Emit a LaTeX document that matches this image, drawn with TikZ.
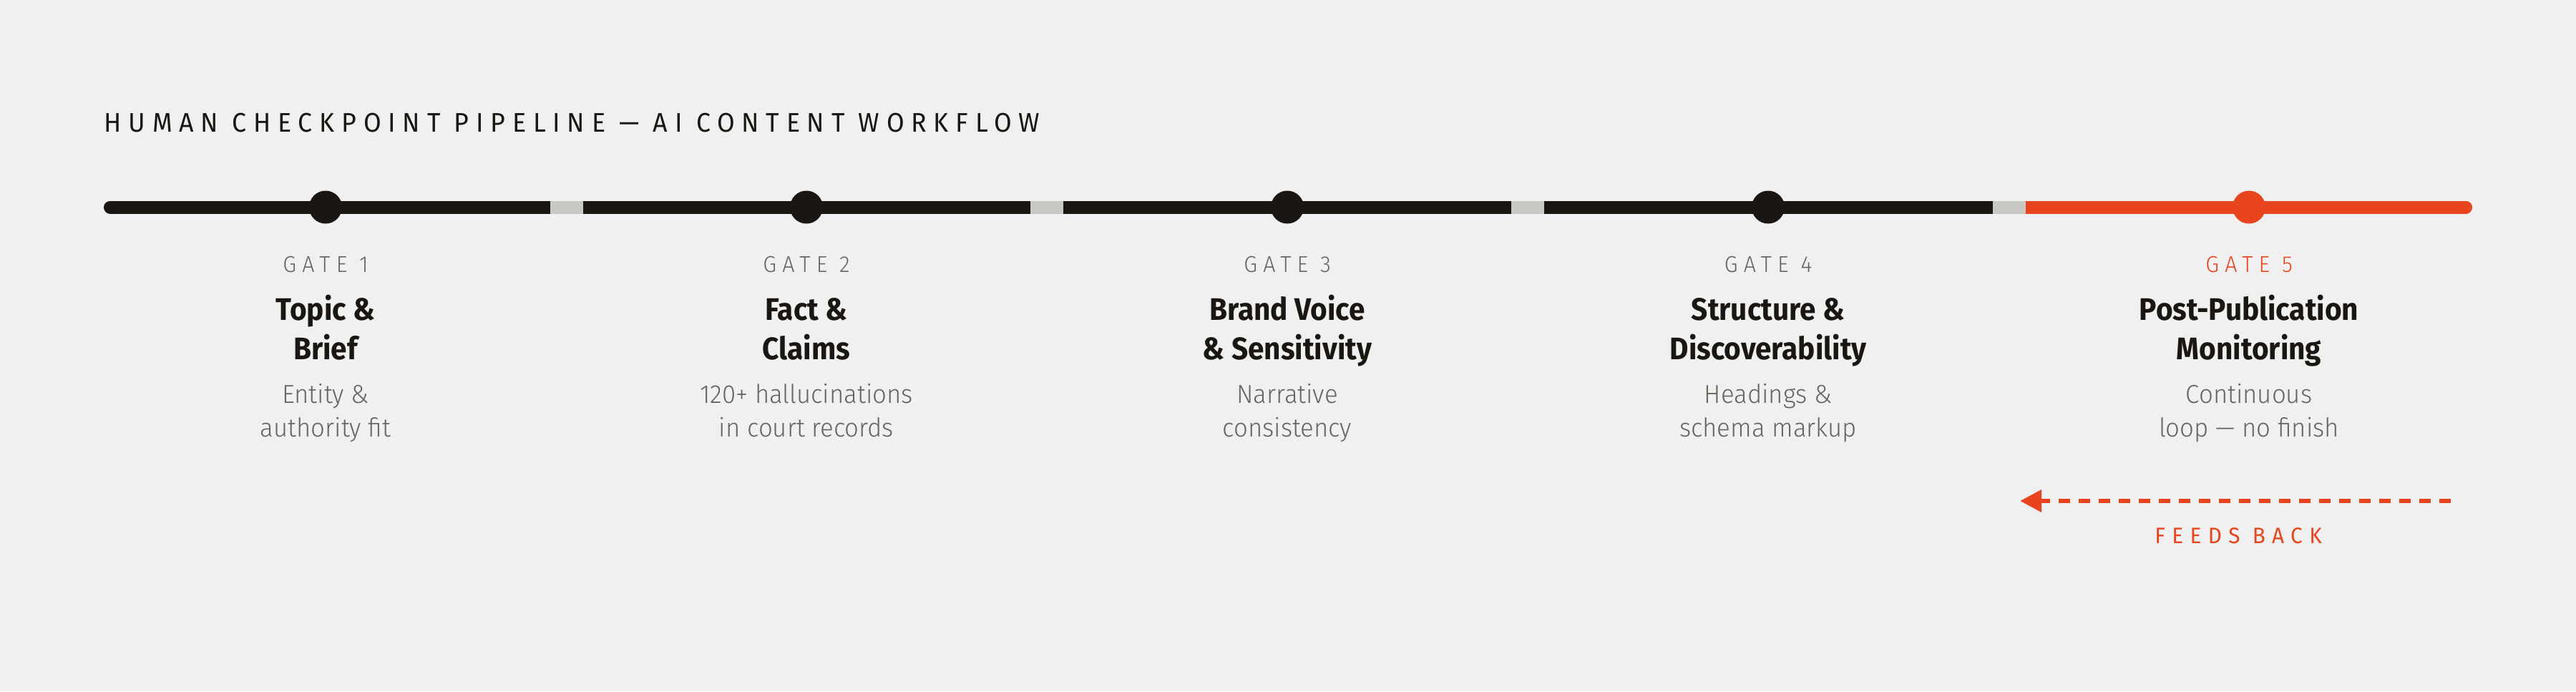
\documentclass[tikz,border=0pt]{standalone}
\usepackage{fontspec}
\setmainfont{Fira Sans}[FakeStretch=0.95]
\newfontfamily\headfont{Fira Sans}[FakeStretch=0.93]
\newfontfamily\lightfont{Fira Sans Light}[FakeStretch=0.96]
\newfontfamily\capsfont{Fira Sans}[FakeStretch=0.95, LetterSpace=26]
\newfontfamily\capslight{Fira Sans Light}[FakeStretch=0.95, LetterSpace=26]
\usetikzlibrary{arrows.meta, positioning}
\usepackage{xcolor}
\definecolor{paper}{HTML}{F0F0F0}
\definecolor{ink}{HTML}{1A1612}
\definecolor{mute}{HTML}{67635F}
\definecolor{gapgray}{HTML}{C9C8C5}
\definecolor{accent}{HTML}{E8441E}

\begin{document}
\begin{tikzpicture}[
>=Triangle,
track/.style={line width=0.18cm, line cap=round},
gapbar/.style={line width=0.18cm, draw=gapgray},
dot/.style={circle, inner sep=0pt, minimum size=0.46cm},
gatelab/.style={anchor=base, inner sep=0pt, font=\capslight\fontsize{9.1}{11}\selectfont},
gatetitle/.style={anchor=base, inner sep=0pt, text=ink, font=\headfont\bfseries\fontsize{12.4}{14}\selectfont},
gatedesc/.style={anchor=base, inner sep=0pt, text=mute, font=\lightfont\fontsize{10.3}{12}\selectfont},
feed/.style={draw=accent, line width=0.065cm, dash pattern=on 0.16cm off 0.12cm, -{Triangle[length=0.30cm, width=0.30cm]}},
]
% background
\fill[paper] (0,0) rectangle (36,-9.66);
\useasboundingbox (0,0) rectangle (36,-9.66);

% title
\node[anchor=base west, inner sep=0pt, text=ink, font=\capsfont\fontsize{10.7}{12}\selectfont] (title) at (1.45,-1.84) {HUMAN CHECKPOINT PIPELINE — AI CONTENT WORKFLOW};

% track
\foreach \a/\b in {1.54/7.69, 8.15/14.40, 14.86/21.12, 21.58/27.85}
  \draw[track, draw=ink] (\a,-2.895) -- (\b,-2.895);
\draw[track, draw=accent] (28.31,-2.895) -- (34.46,-2.895);
\foreach \a/\b in {7.69/8.15, 14.40/14.86, 21.12/21.58, 27.85/28.31}
  \draw[gapbar] (\a,-2.895) -- (\b,-2.895);

% gates
\foreach \i/\x/\k/\c/\ta/\tb/\da/\db in {
  1/4.55/ink/mute/Topic \&/Brief/Entity \&/authority fit,
  2/11.27/ink/mute/Fact \&/Claims/120+ hallucinations/in court records,
  3/17.99/ink/mute/Brand Voice/\& Sensitivity/Narrative/consistency,
  4/24.71/ink/mute/Structure \&/Discoverability/Headings \&/schema markup,
  5/31.43/accent/accent/Post-Publication/Monitoring/Continuous/loop — no finish}{
  \node[dot, fill=\k] (g\i) at (\x,-2.895) {};
  \node[gatelab, text=\c] (lab\i) at (\x,-3.80) {GATE \i};
  \node[gatetitle] (ta\i) at (\x,-4.47) {\ta};
  \node[gatetitle] (tb\i) at (\x,-5.02) {\tb};
  \node[gatedesc] (da\i) at (\x,-5.63) {\da};
  \node[gatedesc] (db\i) at (\x,-6.10) {\db};
}

% feedback arrow
\coordinate (fbfrom) at (34.25,-7.00);
\coordinate (fbto) at (28.23,-7.00);
\draw[feed] (fbfrom) -- (fbto);
\node[anchor=base, inner sep=0pt, text=accent, font=\capsfont\addfontfeatures{LetterSpace=30}\fontsize{8.9}{11}\selectfont] (fblab) at (31.28,-7.59) {FEEDS BACK};
\end{tikzpicture}
\end{document}
